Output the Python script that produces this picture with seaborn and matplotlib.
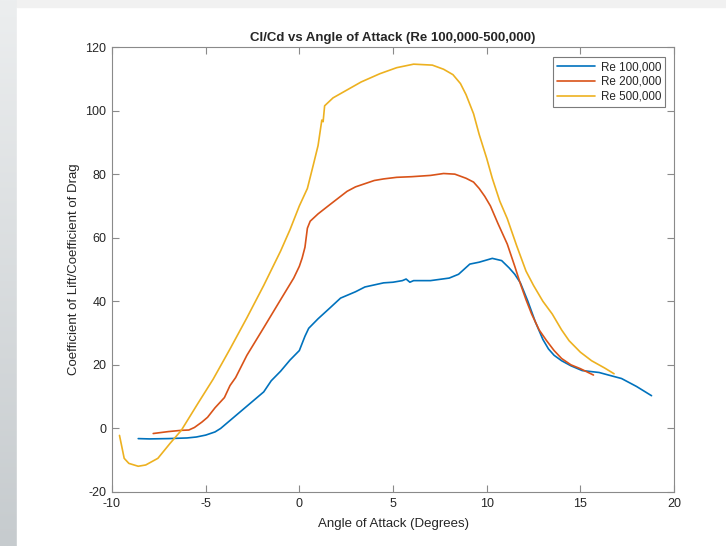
import numpy as np
import pandas as pd
import matplotlib
matplotlib.use("Agg")
import matplotlib.pyplot as plt
import seaborn as sns

# ---- data ----
re100_aoa = [-8.6, -8.0, -7.0, -6.0, -5.5, -5.0, -4.5, -4.2, -3.7, -3.2, -2.5, -1.9, -1.5, -1.0, -0.5, 0.0,
             0.3, 0.5, 1.0, 1.65, 2.2, 2.6, 3.0, 3.5, 4.5, 5.0, 5.5, 5.7, 5.9, 6.1, 6.5, 7.0, 8.0, 8.5, 9.1, 9.6,
             10.3, 10.8, 11.2, 11.5, 11.8, 12.2, 12.6, 13.0, 13.3, 13.6, 14.0, 14.5, 15.1, 16.0, 16.5, 17.2, 18.0, 18.8]
re100_clcd = [-3.2, -3.3, -3.2, -3.0, -2.7, -2.1, -1.1, 0.0, 2.5, 5.0, 8.5, 11.5, 15.0, 18.0, 21.5, 24.5,
              29.0, 31.5, 34.5, 38.0, 41.0, 42.0, 43.0, 44.5, 45.8, 46.0, 46.5, 47.0, 46.0, 46.5, 46.5, 46.5, 47.3, 48.5,
              51.7, 52.3, 53.5, 52.8, 50.5, 48.5, 45.8, 40.0, 33.5, 28.0, 25.0, 23.0, 21.3, 19.7, 18.2, 17.6, 16.8,
              15.7, 13.2, 10.3]

re200_aoa = [-7.8, -7.0, -6.3, -5.9, -5.6, -5.2, -4.9, -4.5, -4.0, -3.7, -3.4, -2.8, -1.9, -1.0, -0.3, 0.0,
             0.15, 0.3, 0.43, 0.58, 1.0, 1.65, 2.55, 3.0, 3.5, 4.0, 4.5, 5.2, 6.0, 7.0, 7.7, 8.3, 8.9, 9.3, 9.6,
             9.9, 10.2, 10.6, 11.1, 11.5, 11.8, 12.1, 12.4, 12.8, 13.2, 13.6, 14.0, 14.5, 15.0, 15.7]
re200_clcd = [-1.6, -1.0, -0.6, -0.5, 0.3, 2.0, 3.5, 6.5, 9.7, 13.5, 16.0, 23.0, 31.7, 40.5, 47.3, 51.0,
              53.6, 57.0, 63.0, 65.2, 67.5, 70.5, 74.6, 76.0, 77.0, 78.0, 78.5, 79.0, 79.2, 79.6, 80.2, 80.0, 78.7,
              77.5, 75.5, 73.0, 70.0, 64.5, 58.0, 51.0, 45.5, 40.5, 36.0, 31.0, 27.6, 24.5, 22.0, 20.0, 18.8, 16.8]

re500_aoa = [-9.6, -9.45, -9.35, -9.1, -8.6, -8.2, -7.55, -6.9, -6.3, -5.4, -4.6, -3.7, -2.8, -1.9,
             -1.0, -0.5, 0.0, 0.43, 0.75, 1.0, 1.2, 1.27, 1.35, 1.8, 2.55, 3.3, 4.3, 5.2, 6.1, 7.1,
             7.7, 8.2, 8.6, 8.9, 9.3, 9.6, 10.0, 10.3, 10.7, 11.1, 11.6, 12.1, 12.5, 13.0, 13.5, 14.0, 14.4,
             15.0, 15.6, 16.3, 16.8]
re500_clcd = [-2.2, -6.5, -9.4, -11.0, -11.9, -11.5, -9.4, -4.7, -0.6, 8.0, 15.5, 25.0, 34.8, 45.0,
              55.8, 62.5, 70.0, 75.5, 83.0, 89.0, 97.0, 96.5, 101.5, 104.0, 106.5, 109.0, 111.6, 113.5, 114.6, 114.3,
              113.0, 111.3, 108.5, 105.0, 99.0, 92.5, 85.0, 78.7, 71.5, 66.0, 57.5, 49.5, 45.0, 40.0, 36.0, 31.0, 27.6,
              24.0, 21.3, 19.0, 17.2]

series_names = ["Re 100,000", "Re 200,000", "Re 500,000"]
series_colors = ["#0072BD", "#D95319", "#EDB120"]

x_ticks = [-10, -5, 0, 5, 10, 15, 20]
y_ticks = [-20, 0, 20, 40, 60, 80, 100, 120]

df = pd.concat([
    pd.DataFrame({"aoa": re100_aoa, "clcd": re100_clcd, "series": series_names[0]}),
    pd.DataFrame({"aoa": re200_aoa, "clcd": re200_clcd, "series": series_names[1]}),
    pd.DataFrame({"aoa": re500_aoa, "clcd": re500_clcd, "series": series_names[2]}),
], ignore_index=True)

sns.set_theme(style="white")
plt.rcParams["font.family"] = ["Liberation Sans", "DejaVu Sans"]
plt.rcParams["axes.unicode_minus"] = False

W, H = 726, 546
fig = plt.figure(figsize=(W / 100, H / 100), dpi=100, facecolor="#f1f1f1")

# screenshot-like background: white page with gray left strip
bg = fig.add_axes([0, 0, 1, 1], zorder=-10)
bg.set_axis_off()
grad = np.linspace(0, 1, 256).reshape(-1, 1)
bg.imshow(grad, extent=[0, 17 / W, 0, 1], aspect="auto",
          cmap=matplotlib.colors.LinearSegmentedColormap.from_list("g", ["#c6cbce", "#eceeef"]),
          origin="lower", transform=bg.transAxes)
bg.add_patch(plt.Rectangle((17 / W, 0), 1 - 17 / W, 1 - 7 / H, color="white", transform=bg.transAxes))
bg.add_patch(plt.Rectangle((17 / W, 1 - 7 / H), 1 - 17 / W, 7 / H, color="#f1f1f1", transform=bg.transAxes))
bg.set_xlim(0, 1)
bg.set_ylim(0, 1)

left, right, top, bottom = 112, 674, 47, 492
ax = fig.add_axes([left / W, 1 - bottom / H, (right - left) / W, (bottom - top) / H])

sns.lineplot(data=df, x="aoa", y="clcd", hue="series", palette=series_colors,
             estimator=None, sort=False, linewidth=1.2, ax=ax)

ax.set_xlim(-10, 20)
ax.set_ylim(-20, 120)
ax.set_xticks(x_ticks)
ax.set_yticks(y_ticks)

txt = "#262626"
edge = "#8a8a8a"
for s in ax.spines.values():
    s.set_visible(True)
    s.set_color(edge)
    s.set_linewidth(0.8)
ax.tick_params(direction="in", length=5, width=0.8, color=edge, labelcolor=txt,
               labelsize=9, top=True, right=True, bottom=True, left=True, pad=4)

ax.set_title("Cl/Cd vs Angle of Attack (Re 100,000-500,000)", fontsize=9.5,
             fontweight="bold", color=txt, pad=4)
ax.set_xlabel("Angle of Attack (Degrees)", fontsize=9.5, color=txt, labelpad=6)
ax.set_ylabel("Coefficient of Lift/Coefficient of Drag", fontsize=9.5, color=txt, labelpad=4)

leg = ax.legend(loc="upper right", bbox_to_anchor=(1 - 9 / (right - left), 1 - 10 / (bottom - top)),
                borderaxespad=0, fontsize=8.4, frameon=True, fancybox=False,
                handlelength=3.3, handletextpad=0.45, borderpad=0.35, labelspacing=0.25)
leg.get_frame().set_edgecolor("#5a5a5a")
leg.get_frame().set_linewidth(0.8)
for t in leg.get_texts():
    t.set_color(txt)

fig.savefig("out.png", dpi=100, facecolor=fig.get_facecolor())
